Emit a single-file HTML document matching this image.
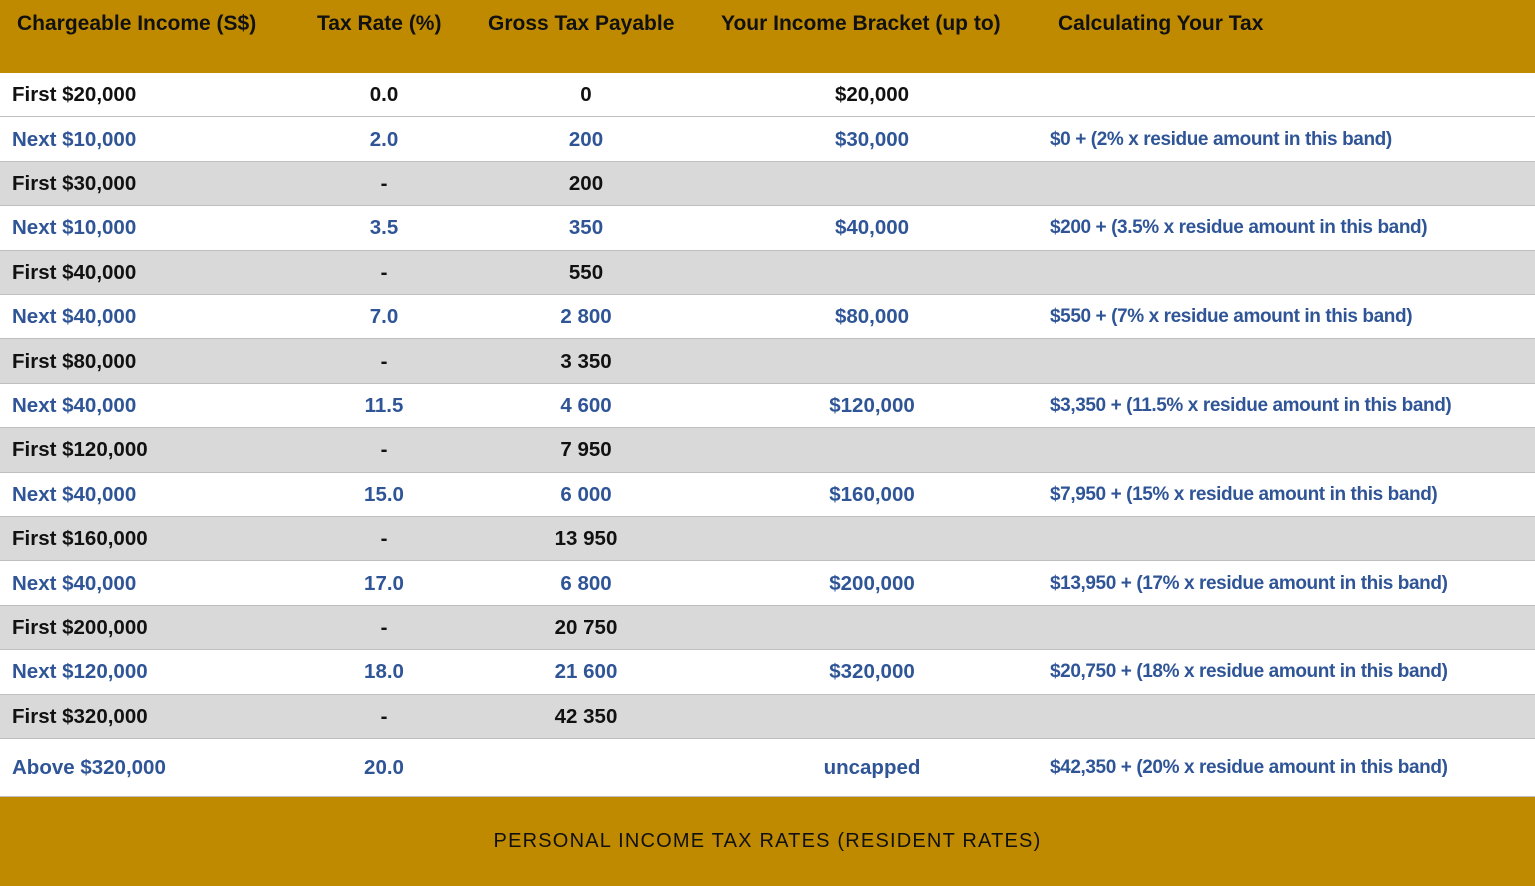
<!DOCTYPE html>
<html><head><meta charset="utf-8">
<style>
*{margin:0;padding:0;box-sizing:border-box}
body{width:1535px;height:886px;background:#fff;font-family:"Liberation Sans",sans-serif;position:relative;overflow:hidden}
#frame{position:absolute;left:0;top:0;width:1535px;height:886px;border-left:2px solid #bdbdbd;border-right:2px solid #bdbdbd}
.hdr{position:absolute;left:0;top:0;width:1535px;height:73px;background:#bf8a00}
.hdr span{position:absolute;top:12px;font-size:21px;font-weight:bold;color:#111;white-space:nowrap}
.row{position:absolute;left:0;width:1535px;border-bottom:1px solid #bfbfbf}
.row span{position:absolute;font-size:20.5px;font-weight:bold;white-space:nowrap}
.c{transform:translateX(-50%)}
.foot{position:absolute;left:0;top:797px;width:1535px;height:89px;background:#bf8a00}
.foot span{position:absolute;left:0;width:100%;top:33px;text-align:center;font-size:20px;letter-spacing:1.2px;color:#111}
</style></head>
<body>
<div id="frame"></div>
<div class="hdr">
<span style="left:17px">Chargeable Income (S$)</span>
<span style="left:317px">Tax Rate (%)</span>
<span style="left:488px">Gross Tax Payable</span>
<span style="left:721px">Your Income Bracket (up to)</span>
<span style="left:1058px">Calculating Your Tax</span>
</div>
<div id="rows"></div>
<div class="foot"><span>PERSONAL INCOME TAX RATES (RESIDENT RATES)</span></div>
<script>
const incomes=["First $20,000","Next $10,000","First $30,000","Next $10,000","First $40,000","Next $40,000","First $80,000","Next $40,000","First $120,000","Next $40,000","First $160,000","Next $40,000","First $200,000","Next $120,000","First $320,000","Above $320,000"];
const rates=["0.0","2.0","-","3.5","-","7.0","-","11.5","-","15.0","-","17.0","-","18.0","-","20.0"];
const gross=["0","200","200","350","550","2 800","3 350","4 600","7 950","6 000","13 950","6 800","20 750","21 600","42 350",""];
const brackets=["$20,000","$30,000","","$40,000","","$80,000","","$120,000","","$160,000","","$200,000","","$320,000","","uncapped"];
const calcs=["","$0 + (2% x residue amount in this band)","","$200 + (3.5% x residue amount in this band)","","$550 + (7% x residue amount in this band)","","$3,350 + (11.5% x residue amount in this band)","","$7,950 + (15% x residue amount in this band)","","$13,950 + (17% x residue amount in this band)","","$20,750 + (18% x residue amount in this band)","","$42,350 + (20% x residue amount in this band)"];
const wrap=document.getElementById('rows');
const rowH=44.4;
incomes.forEach((inc,i)=>{
  const top=73+i*rowH;
  const h=i===incomes.length-1?797-top:rowH;
  const first=inc.startsWith('First');
  const r=document.createElement('div');
  r.className='row';
  
  
  r.style.top=top+'px';r.style.height=h+'px';
  r.style.background=(first&&i>0)?'#d9d9d9':'#fff';
  const col=(i===0||first)?'#111':'#2f5597';
  const ty=(h-24)/2;
  const cells=[[inc,12,false,'income-cell'],[rates[i],384,true,'rate-cell'],[gross[i],586,true,'gross-cell'],[brackets[i],872,true,'bracket-cell'],[calcs[i],1050,false,'calc-cell']];
  cells.forEach(([t,x,c,n])=>{
    if(!t)return;
    const s=document.createElement('span');
    
    
    s.textContent=t;
    s.style.left=x+'px';s.style.top=ty+'px';s.style.color=col;
    if(c)s.className='c';
    if(n==='calc-cell'){s.style.fontSize='19px';s.style.letterSpacing='-0.4px';s.style.top=(ty+1)+'px';}
    r.appendChild(s);
  });
  wrap.appendChild(r);
});
</script>
</body></html>
